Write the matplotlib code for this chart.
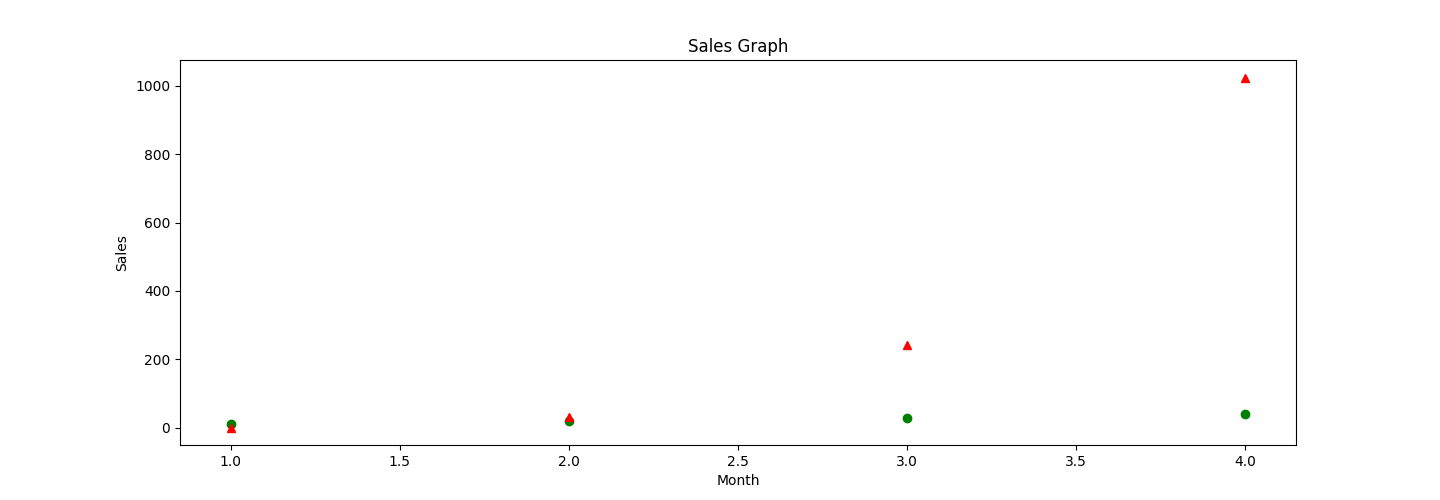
import matplotlib.pyplot as plt

months = [1, 2, 3, 4]
sales_a = [10, 20, 30, 40]
sales_b = [1, 32, 243, 1024]

fig, ax = plt.subplots(figsize=(14.4, 5), dpi=100)
ax.plot(months, sales_a, "go")
ax.plot(months, sales_b, "r^")
ax.set_title("Sales Graph")
ax.set_xlabel("Month")
ax.set_ylabel("Sales")

plt.savefig("out.png", dpi=100)
